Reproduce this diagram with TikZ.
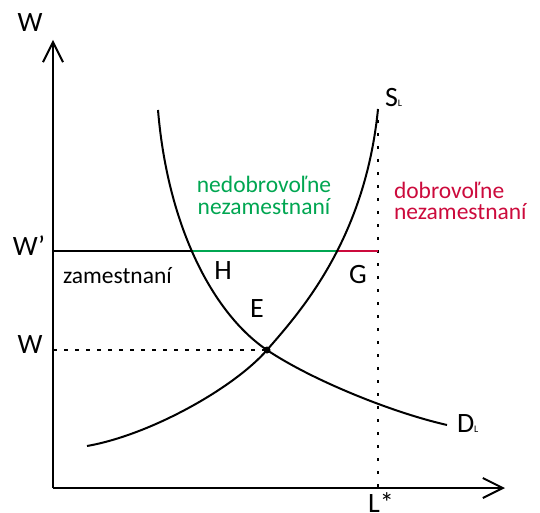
\documentclass[tikz,border=0pt]{standalone}
\usepackage{fontspec}
\setmainfont{Carlito}
\usetikzlibrary{arrows.meta}
\definecolor{mygreen}{RGB}{0,166,81}
\definecolor{myred}{RGB}{204,10,60}
\begin{document}
\begin{tikzpicture}[x=1pt, y=-1pt, line width=2pt,
  axis/.style={-{Straight Barb[length=20pt,width=20pt]}},
  letter/.style={font=\fontsize{28}{30}\selectfont, anchor=base, inner sep=0pt},
  txt/.style={font=\fontsize{23.5}{21}\selectfont, inner sep=0pt, align=left}]
  \useasboundingbox (0,0) rectangle (540,513);
  % axes
  \coordinate (O) at (53,488);
  \coordinate (Ytip) at (53,40);
  \coordinate (Xtip) at (505,488);
  \draw[axis] (O) -- (Ytip);
  \draw[axis] (O) -- (Xtip);
  % points
  \coordinate (E) at (267,350);
  \coordinate (H) at (191,251);
  \coordinate (G) at (336,251);
  \coordinate (K) at (378,251);
  \coordinate (Wp) at (53,251);
  \coordinate (W0) at (53,350);
  \coordinate (Ltop) at (378,120);
  \coordinate (Lbot) at (378,488);
  % wage lines
  \draw[line width=1.8pt, dash pattern=on 4pt off 7pt] (W0) -- (E);
  \draw[line width=2.6pt, dash pattern=on 3pt off 10pt] (Ltop) -- (Lbot);
  \draw (Wp) -- (H);
  \draw[mygreen] (H) -- (G);
  \draw[myred] (G) -- (K);
  % curves
  \draw (87,446) .. controls (150,435) and (234,388) .. (E)
        .. controls (300,312) and (365,240) .. (378,109);
  \draw (158,110) .. controls (168,230) and (215,315) .. (E)
        .. controls (310,379) and (390,412) .. (447,425);
  \fill (E) circle (3.5pt);
  % labels
  \node[letter] (wtop) at (30,32) {W};
  \node[letter] (wprime) at (29,255) {W’};
  \node[letter] (wlow) at (30,353) {W};
  \node[letter] (hlab) at (223,279) {H};
  \node[letter] (elab) at (257,317) {E};
  \node[letter] (glab) at (358,283) {G};
  \node[letter, anchor=base west] (slab) at (384,107) {S\fontsize{10}{12}\selectfont L};
  \node[letter, anchor=base west] (dlab) at (456,432) {D\fontsize{10}{12}\selectfont L};
  \node[letter, anchor=north west] (lstar) at (367,492) {L*};
  \node[txt, anchor=base west] (zam) at (62,283) {zamestnaní};
  \node[txt, mygreen, align=center, anchor=base] (nedob) at (264,214) {nedobrovoľne\\nezamestnaní};
  \node[txt, myred, anchor=base west] (dob) at (393,219) {dobrovoľne\\nezamestnaní};
\end{tikzpicture}
\end{document}
